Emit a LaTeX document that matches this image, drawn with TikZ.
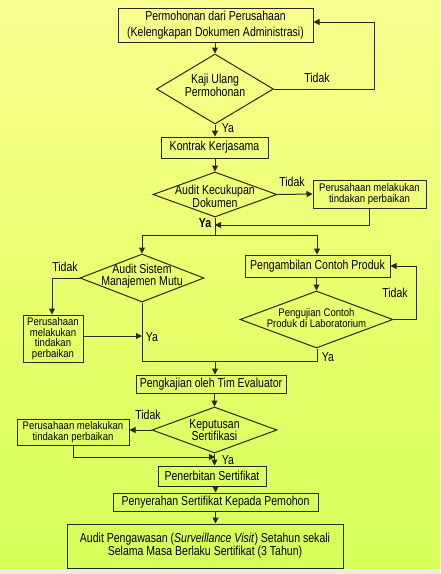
\documentclass[tikz,border=0pt]{standalone}
\usepackage{fontspec}
\setmainfont[FakeStretch=0.81]{Liberation Sans}
\newfontfamily\smallfam[FakeStretch=0.87]{Liberation Sans}
\usetikzlibrary{shapes.geometric,arrows.meta}
\definecolor{lc}{RGB}{40,40,20}
\definecolor{bgtop}{RGB}{248,255,143}
\definecolor{bgmid}{RGB}{234,255,110}
\definecolor{bgbot}{RGB}{212,255,90}
\definecolor{bgstrip}{RGB}{228,255,110}
\definecolor{bggray}{RGB}{232,236,226}
\tikzset{
  box/.style={draw=lc, line width=1pt, inner sep=0pt, align=center, font=\fontsize{13}{14}\selectfont},
  sbox/.style={box, font=\smallfam\fontsize{11}{11}\selectfont},
  dia/.style={draw=lc, line width=1pt, shape=diamond, inner sep=0pt},
  dtext/.style={align=center, inner sep=0pt, font=\fontsize{13}{12}\selectfont},
  lbl/.style={inner sep=0pt, font=\fontsize{13}{14}\selectfont},
  conn/.style={draw=lc, line width=1pt},
  arr/.style={conn, -{Triangle[length=6pt,width=6pt]}}
}
\begin{document}
\begin{tikzpicture}[x=1pt,y=-1pt]
\useasboundingbox (0,0) rectangle (440,574);
% background
\shade[top color=bgtop, bottom color=bgbot, middle color=bgmid] (0,0) rectangle (440,569);
\shade[top color=bgtop!80!bgstrip, bottom color=bgbot!90!bgstrip] (432,0) rectangle (440,569);
\fill[bggray] (0,569) rectangle (440,574);

% nodes
\node[box, minimum width=195pt, minimum height=34pt, font=\fontsize{13}{16}\selectfont] (b1) at (215.5,25) {Permohonan dari Perusahaan\\(Kelengkapan Dokumen Administrasi)};
\node[dia, minimum width=117pt, minimum height=70pt] (d1) at (215,89) {};
\node[dtext] (t1) at (215,85) {Kaji Ulang\\Permohonan};
\node[box, minimum width=107pt, minimum height=21pt] (b2) at (214.5,147.5) {Kontrak Kerjasama};
\node[dia, minimum width=124pt, minimum height=45pt] (d2) at (215,194.5) {};
\node[dtext, font=\fontsize{13}{11.5}\selectfont] (t2) at (215,196) {Audit Kecukupan\\Dokumen};
\node[sbox, minimum width=113pt, minimum height=28pt] (b3) at (369.5,194) {Perusahaan melakukan\\tindakan perbaikan};
\node[dia, minimum width=124pt, minimum height=48pt] (d3) at (142,278) {};
\node[dtext, font=\fontsize{13}{12}\selectfont] (t3) at (142,276) {Audit Sistem\\Manajemen Mutu};
\node[sbox, minimum width=60pt, minimum height=47pt, font=\smallfam\fontsize{11}{10.6}\selectfont] (b4) at (53,338.5) {Perusahaan\\melakukan\\tindakan\\perbaikan};
\node[box, minimum width=145pt, minimum height=22pt] (b5) at (317.5,266) {Pengambilan Contoh Produk};
\node[dia, minimum width=153pt, minimum height=57pt] (d4) at (316.5,319.5) {};
\node[dtext, font=\smallfam\fontsize{11}{11}\selectfont] (t4) at (316.5,318) {Pengujian Contoh\\Produk di Laboratorium};
\node[box, minimum width=150pt, minimum height=18pt] (b6) at (211,384) {Pengkajian oleh Tim Evaluator};
\node[dia, minimum width=125pt, minimum height=46pt] (d5) at (214.5,430) {};
\node[dtext, font=\fontsize{13}{12.5}\selectfont] (t5) at (214.5,430) {Keputusan\\Sertifikasi};
\node[sbox, minimum width=112pt, minimum height=26pt, font=\smallfam\fontsize{11}{11}\selectfont] (b7) at (73,432) {Perusahaan melakukan\\tindakan perbaikan};
\node[box, minimum width=108pt, minimum height=20pt] (b8) at (212,476) {Penerbitan Sertifikat};
\node[box, minimum width=205pt, minimum height=18pt] (b9) at (215.5,502) {Penyerahan Sertifikat Kepada Pemohon};
\node[box, minimum width=276pt, minimum height=44pt, font=\fontsize{13}{13}\selectfont] (b10) at (205,546) {Audit Pengawasan (\textit{Surveillance Visit}) Setahun sekali\\Selama Masa Berlaku Sertifikat (3 Tahun)};

% labels
\node[lbl] (l1) at (317,78) {Tidak};
\node[lbl] (l2) at (228,128) {Ya};
\node[lbl] (l3) at (292,182) {Tidak};
\node[lbl, font=\bfseries\fontsize{13}{14}\selectfont] (l4) at (205,223) {Ya};
\node[lbl] (l5) at (65,267) {Tidak};
\node[lbl] (l6) at (395,293) {Tidak};
\node[lbl] (l7) at (152,337) {Ya};
\node[lbl] (l8) at (328,357) {Ya};
\node[lbl] (l9) at (148,415) {Tidak};
\node[lbl] (l10) at (228,460) {Ya};

% coordinates
\coordinate (c1) at (374,89);
\coordinate (c2) at (374,22);
\coordinate (j1) at (215,225);
\coordinate (c3) at (369.5,225);
\coordinate (s0) at (215,235);
\coordinate (sl) at (142,235);
\coordinate (sr) at (317,235);
\coordinate (c4) at (52,278);
\coordinate (j2) at (142,336);
\coordinate (c5) at (142,361);
\coordinate (c6) at (317,361);
\coordinate (j3) at (215,361);
\coordinate (c7) at (416,319.5);
\coordinate (c8) at (416,266);
\coordinate (c9) at (73,457);
\coordinate (j4) at (215,457);

% connectors
\draw[arr] (b1.south -| d1.north) -- (d1.north);
\draw[arr] (d1.east) -- (c1) -- (c2) -- (b1.east |- c2);
\draw[arr] (d1.south) -- (b2.north -| d1.south);
\draw[arr] (b2.south -| d2.north) -- (d2.north);
\draw[arr] (d2.east) -- (b3.west);
\draw[arr] (b3.south) -- (c3) -- (j1);
\draw[conn] (d2.south) -- (s0);
\draw[conn] (sl) -- (sr);
\draw[arr] (sl) -- (d3.north);
\draw[arr] (sr) -- (b5.north -| sr);
\draw[arr] (d3.west) -- (c4) -- (b4.north -| c4);
\draw[arr] (b4.east |- j2) -- (j2);
\draw[conn] (d3.south) -- (c5) -- (c6) -- (d4.south -| c6);
\draw[arr] (b5.south -| d4.north) -- (d4.north);
\draw[arr] (d4.east) -- (c7) -- (c8) -- (b5.east);
\draw[arr] (j3) -- (b6.north -| j3);
\draw[arr] (b6.south -| d5.north) -- (d5.north);
\draw[arr] (d5.west) -- (b7.east |- d5.west);
\draw[arr] (b7.south -| c9) -- (c9) -- (j4);
\draw[arr] (d5.south) -- (b8.north -| d5.south);
\draw[arr] (b8.south -| b9.north) -- (b9.north);
\draw[arr] (b9.south) -- (b10.north -| b9.south);
\end{tikzpicture}
\end{document}
